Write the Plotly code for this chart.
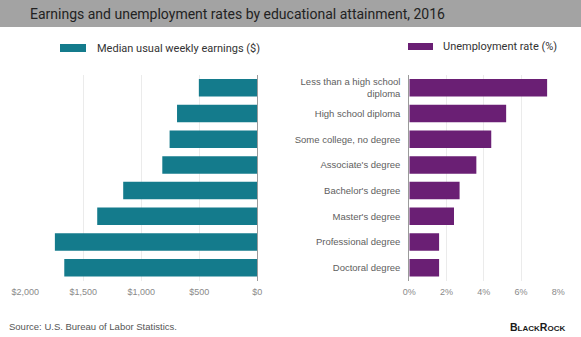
import plotly.graph_objects as go

categories = ["Less than a high school<br>diploma", "High school diploma", "Some college, no degree",
              "Associate's degree", "Bachelor's degree", "Master's degree",
              "Professional degree", "Doctoral degree"]
earnings = [504, 692, 756, 819, 1156, 1380, 1745, 1664]
unemployment = [7.4, 5.2, 4.4, 3.6, 2.7, 2.4, 1.6, 1.6]
earn_ticks = [2000, 1500, 1000, 500, 0]
earn_labels = ["$2,000", "$1,500", "$1,000", "$500", "$0"]
unemp_ticks = [0, 2, 4, 6, 8]
unemp_labels = ["0%", "2%", "4%", "6%", "8%"]

W, H = 581, 337
TEAL = "#147b8c"
PURPLE = "#6a1f74"

def px(x):
    return x / W

def py(y):
    return 1 - y / H

fig = go.Figure()
fig.add_trace(go.Bar(y=categories, x=earnings, orientation="h", marker=dict(color=TEAL, line=dict(width=0)),
                     xaxis="x", yaxis="y", width=0.68, showlegend=False))
fig.add_trace(go.Bar(y=categories, x=unemployment, orientation="h", marker=dict(color=PURPLE, line=dict(width=0)),
                     xaxis="x2", yaxis="y2", width=0.68, showlegend=False))

ydom = [py(280.5), py(75)]
tickfont = dict(family="Liberation Sans, Arial", size=9, color="#8a8a8a")
fig.update_layout(
    template="none",
    width=W, height=H, margin=dict(l=0, r=0, t=0, b=0, autoexpand=False),
    paper_bgcolor="white", plot_bgcolor="white",
    xaxis=dict(domain=[px(25.3), px(257.3)], range=[2000, 0], tickvals=earn_ticks, ticktext=earn_labels,
               showgrid=True, gridcolor="#ebebeb", gridwidth=1, zeroline=False, tickfont=tickfont,
               ticks="outside", ticklen=3, tickcolor="rgba(0,0,0,0)", automargin=False, showline=False),
    yaxis=dict(domain=ydom, categoryorder="array", categoryarray=categories[::-1], showticklabels=False,
               side="right", showline=True, linecolor="#9a9a9a", linewidth=1, anchor="x", showgrid=False,
               zeroline=False, automargin=False, ticks=""),
    xaxis2=dict(domain=[px(409.3), px(558.3)], range=[0, 8], tickvals=unemp_ticks, ticktext=unemp_labels,
                showgrid=True, gridcolor="#ebebeb", gridwidth=1, zeroline=False, tickfont=tickfont,
                ticks="outside", ticklen=3, tickcolor="rgba(0,0,0,0)", anchor="y2", automargin=False,
                showline=False),
    yaxis2=dict(domain=ydom, categoryorder="array", categoryarray=categories[::-1], anchor="x2",
                showline=True, linecolor="#9a9a9a", linewidth=1, showgrid=False, zeroline=False,
                tickfont=dict(family="Liberation Sans, Arial", size=9.5, color="#606060"),
                ticks="outside", ticklen=6, tickcolor="rgba(0,0,0,0)", automargin=False),
    bargap=0.3,
)

# title bar
fig.add_shape(type="rect", xref="paper", yref="paper", x0=0, x1=1, y0=py(27), y1=1,
              fillcolor="#a3a3a3", line=dict(width=0), layer="below")
fig.add_annotation(text="Earnings and unemployment rates by educational attainment, 2016",
                   xref="paper", yref="paper", x=px(28), y=py(14), xanchor="left", yanchor="middle",
                   showarrow=False, font=dict(family="Roboto", size=14, color="#222222"))

# legends
fig.add_shape(type="rect", xref="paper", yref="paper", x0=px(60), x1=px(86), y0=py(52), y1=py(44),
              fillcolor=TEAL, line=dict(width=0))
fig.add_annotation(text="Median usual weekly earnings ($)", xref="paper", yref="paper", x=px(95), y=py(48),
                   xanchor="left", yanchor="middle", showarrow=False,
                   font=dict(family="Roboto", size=11, color="#333333"))
fig.add_shape(type="rect", xref="paper", yref="paper", x0=px(408), x1=px(433), y0=py(50), y1=py(43),
              fillcolor=PURPLE, line=dict(width=0))
fig.add_annotation(text="Unemployment rate (%)", xref="paper", yref="paper", x=px(441), y=py(46.5),
                   xanchor="left", yanchor="middle", showarrow=False,
                   font=dict(family="Roboto", size=11, color="#333333"))

# footer
fig.add_annotation(text="Source: U.S. Bureau of Labor Statistics.", xref="paper", yref="paper", x=px(7), y=py(326),
                   xanchor="left", yanchor="middle", showarrow=False,
                   font=dict(family="Liberation Sans, Arial", size=9.5, color="#555555"))
fig.add_annotation(text="<b>B<span style='font-size:8px'>LACK</span>R<span style='font-size:8px'>OCK</span></b>",
                   xref="paper", yref="paper", x=px(567), y=py(326.5), xanchor="right", yanchor="middle",
                   showarrow=False, font=dict(family="Liberation Sans, Arial", size=10.5, color="#1a1a1a"))

fig.write_html("out.html")
